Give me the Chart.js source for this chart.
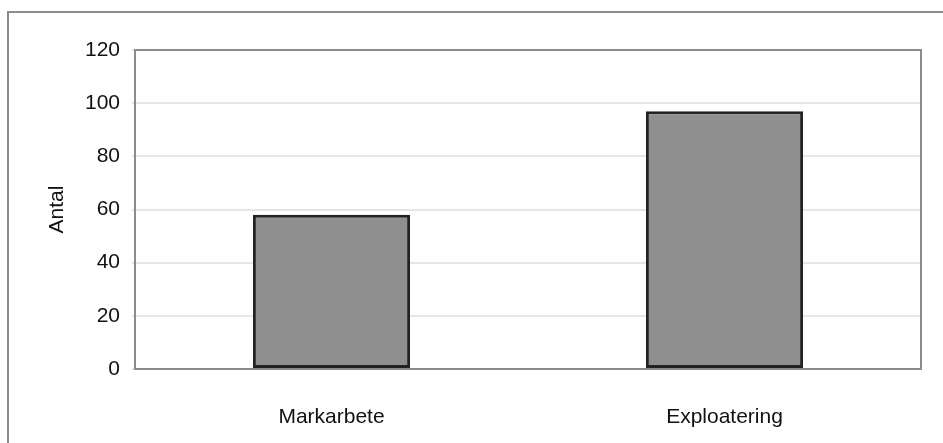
<!DOCTYPE html>
<html>
<head>
<meta charset="utf-8">
<script src="https://cdn.jsdelivr.net/npm/chart.js@4"></script>
<style>
  html, body { margin: 0; padding: 0; background: #fff; overflow: hidden; }
  #wrap { position: relative; width: 943px; height: 443px; }
  #frame { position: absolute; left: 7px; top: 11px; width: 950px; height: 450px;
           border: 2px solid #8c8c8c; box-sizing: border-box; }
  #c { position: absolute; left: 0; top: 0; }
</style>
</head>
<body>
<div id="wrap">
  <div id="frame"></div>
  <canvas id="c" width="943" height="443"></canvas>
</div>
<script>
(function () {
  const categories = ['Markarbete', 'Exploatering'];
  const values = [58, 97];
  const yTicks = [0, 20, 40, 60, 80, 100, 120];

  const font = { family: '"Liberation Sans", Arial, sans-serif', size: 21 };
  const textColor = '#111';

  // grey frame around the plot area, drawn under the bars
  const plotFrame = {
    id: 'plotFrame',
    beforeDatasetsDraw(chart) {
      const a = chart.chartArea;
      const ctx = chart.ctx;
      ctx.save();
      ctx.strokeStyle = '#8c8c8c';
      ctx.lineWidth = 2;
      ctx.strokeRect(a.left, a.top, a.right - a.left, a.bottom - a.top);
      ctx.restore();
    }
  };

  new Chart(document.getElementById('c'), {
    type: 'bar',
    data: {
      labels: categories,
      datasets: [{
        label: 'Antal',
        data: values,
        backgroundColor: '#8f8f8f',
        borderColor: '#222',
        borderWidth: 3,
        borderSkipped: false,
        barPercentage: 0.4,
        categoryPercentage: 1
      }]
    },
    options: {
      responsive: false,
      animation: false,
      layout: { padding: { left: 0, top: 50, right: 22, bottom: 0 } },
      plugins: { legend: { display: false }, tooltip: { enabled: false } },
      scales: {
        x: {
          grid: { display: false },
          border: { display: false },
          ticks: { color: textColor, font, padding: 28 },
          afterFit(scale) { scale.height = 74; }
        },
        y: {
          min: yTicks[0],
          max: yTicks[yTicks.length - 1],
          afterBuildTicks(scale) { scale.ticks = yTicks.map(v => ({ value: v })); },
          grid: { color: '#e6e6e6', lineWidth: 2, tickLength: 3 },
          border: { display: false },
          ticks: { color: textColor, font, padding: 12 },
          title: { display: true, text: 'Antal', color: textColor, font, padding: { top: 45, bottom: 0 } },
          afterFit(scale) { scale.width = 135; }
        }
      }
    },
    plugins: [plotFrame]
  });
})();
</script>
</body>
</html>
